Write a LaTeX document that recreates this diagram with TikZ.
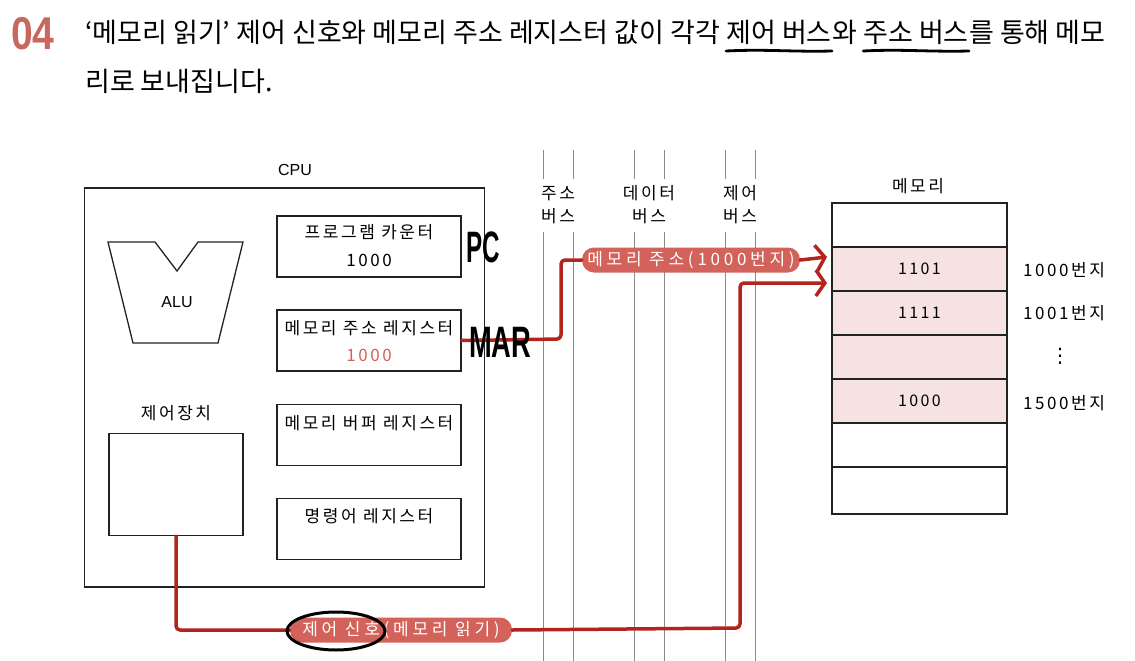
\documentclass[tikz,border=0pt]{standalone}
\usepackage{fontspec}
\usepackage{graphicx}
\setmainfont{Noto Sans CJK KR}
\newfontfamily\hfont{Noto Sans CJK KR}[LetterSpace=15]
\newfontfamily\latinfont{Liberation Sans}
\newfontfamily\symfont{DejaVu Sans}
\usetikzlibrary{arrows.meta,calc,shapes.geometric}
\definecolor{sigred}{HTML}{B3241E}
\definecolor{pillred}{HTML}{D2625A}
\definecolor{pinkfill}{HTML}{F6E2E2}
\definecolor{numred}{HTML}{C8675E}
\definecolor{busgray}{HTML}{8A8A8A}
\definecolor{linegray}{HTML}{222222}
\tikzset{
  box/.style={draw=linegray, line width=1.3pt},
  reg/.style={box, minimum width=184pt, minimum height=61pt, inner sep=0pt},
  kt/.style={font=\hfont\fontsize{17}{17}\selectfont, inner sep=0pt},
  tt/.style={font=\fontsize{27}{27}\selectfont, inner sep=0pt, anchor=base west},
  pillnode/.style={fill=pillred, rounded corners=12pt, text=white, font=\hfont\fontsize{17}{17}\selectfont\addfontfeature{LetterSpace=22}, inner sep=0pt, minimum height=25pt},
  sig/.style={draw=sigred, line width=3.5pt, line join=round, line cap=round, rounded corners=4pt},
  bus/.style={draw=busgray, line width=1pt},
  arr/.style={-{Straight Barb[length=9pt,width=26pt]}},
  cell/.style={box, minimum width=175pt, inner sep=0pt, font=\hfont\fontsize{16}{16}\selectfont},
  hand/.style={font=\latinfont\bfseries\fontsize{44}{44}\selectfont, inner sep=0pt, anchor=base west},
  uline/.style={line width=2.8pt, line cap=round}
}
\begin{document}
\begin{tikzpicture}[x=1pt,y=-1pt]
\useasboundingbox (0,0) rectangle (1135,661);
% title
\node[font=\latinfont\bfseries\fontsize{46}{46}\selectfont, text=numred, inner sep=0pt, anchor=base west] (num) at (11,50) {\scalebox{0.85}[1]{04}};
\node[tt] (t1) at (85,43) {‘메모리 읽기’ 제어 신호와 메모리 주소 레지스터 값이 각각};
\node[tt] (u1) at ($(t1.base east)+(6,0)$) {제어 버스};
\node[tt] (t2) at (u1.base east) {와};
\node[tt] (u2) at ($(t2.base east)+(6,0)$) {주소 버스};
\node[tt] (t3) at (u2.base east) {를 통해 메모};
\node[tt] (t4) at (85,92) {리로 보내집니다.};
\draw[uline] ($(u1.base west)+(0,8)$) .. controls ($(u1.base west)+(40,6)$) and ($(u1.base east)+(-40,9)$) .. ($(u1.base east)+(0,8)$);
\draw[uline] ($(u2.base west)+(0,8)$) .. controls ($(u2.base west)+(40,6)$) and ($(u2.base east)+(-40,9)$) .. ($(u2.base east)+(0,8)$);

% buses
\foreach \bx in {543,573,634,664,725,755}{
  \draw[bus] (\bx,150) -- (\bx,179);
  \draw[bus] (\bx,232) -- (\bx,661);
}
\node[kt, align=center] (abus) at (558,205) {주소\\[6pt]버스};
\node[kt, align=center] (dbus) at (649,205) {데이터\\[6pt]버스};
\node[kt, align=center] (cbus) at (740,205) {제어\\[6pt]버스};

% CPU
\node[kt, font=\latinfont\fontsize{16}{16}\selectfont] (cpul) at (295,170) {CPU};
\node[box, minimum width=400pt, minimum height=399pt, inner sep=0pt] (cpu) at (284.5,387.5) {};
\draw[box] (108,242) -- (155,242) -- (177,271) -- (198,242) -- (243,242) -- (218,343) -- (133,343) -- cycle;
\node[kt, font=\latinfont\fontsize{16}{16}\selectfont] (alu) at (177,302) {ALU};
\node[reg] (pc) at (369,246.5) {};
\node[kt] at (369,232) {프로그램 카운터};
\node[kt] at (369,260) {1000};
\node[reg] (mar) at (369,340.5) {};
\node[kt] at (369,328) {메모리 주소 레지스터};
\node[kt, text=pillred] at (369,355) {1000};
\node[reg] (mbr) at (369,435) {};
\node[kt] at (369,423) {메모리 버퍼 레지스터};
\node[reg] (ir) at (369,529) {};
\node[kt] at (369,516) {명령어 레지스터};
\node[kt] (cul) at (176,413) {제어장치};
\node[box, minimum width=134pt, minimum height=102pt, inner sep=0pt] (cu) at (176,484.5) {};

% memory
\node[kt] (meml) at (918,186) {메모리};
\node[cell, minimum height=44pt] (m1) at (919.5,225) {};
\node[cell, minimum height=44pt, fill=pinkfill] (m2) at (919.5,269) {1101};
\node[cell, minimum height=44pt, fill=pinkfill] (m3) at (919.5,313) {1111};
\node[cell, minimum height=44pt, fill=pinkfill] (m4) at (919.5,357) {};
\node[cell, minimum height=44pt, fill=pinkfill] (m5) at (919.5,401) {1000};
\node[cell, minimum height=44pt] (m6) at (919.5,445) {};
\node[cell, minimum height=47pt] (m7) at (919.5,490.5) {};
\node[kt, anchor=west] (a1) at (1023,270) {1000번지};
\node[kt, anchor=west] (a2) at (1023,313) {1001번지};
\node[inner sep=0pt, font=\symfont\fontsize{20}{20}\selectfont] (a3) at (1060,356) {⋮};
\node[kt, anchor=west] (a4) at (1023,403) {1500번지};

% signals
\coordinate (in1) at (827,257);
\coordinate (in2) at (827,283);
\node[pillnode, minimum width=218pt] (apill) at (691,260) {메모리 주소(1000번지)};
\draw[sig] (mar.east) -- (561,339) |- (apill.west);
\draw[sig, arr] (apill.east) -- (in1);
\node[pillnode, minimum width=222pt] (cpill) at (401,630) {제어 신호(메모리 읽기)};
\draw[sig] (cu.south) |- (cpill.west);
\draw[sig, arr] (cpill.east) -- (740,628) -- (740,283) -- (in2);
\node[ellipse, draw=black, line width=3pt, minimum width=98pt, minimum height=38pt, inner sep=0pt] (circ) at (336,631) {};

% handwritten labels
\node[hand] (pcl) at (466,262) {\scalebox{0.55}[1]{PC}};
\node[hand] (marl) at (469,357) {\scalebox{0.62}[1]{MAR}};
\end{tikzpicture}
\end{document}
